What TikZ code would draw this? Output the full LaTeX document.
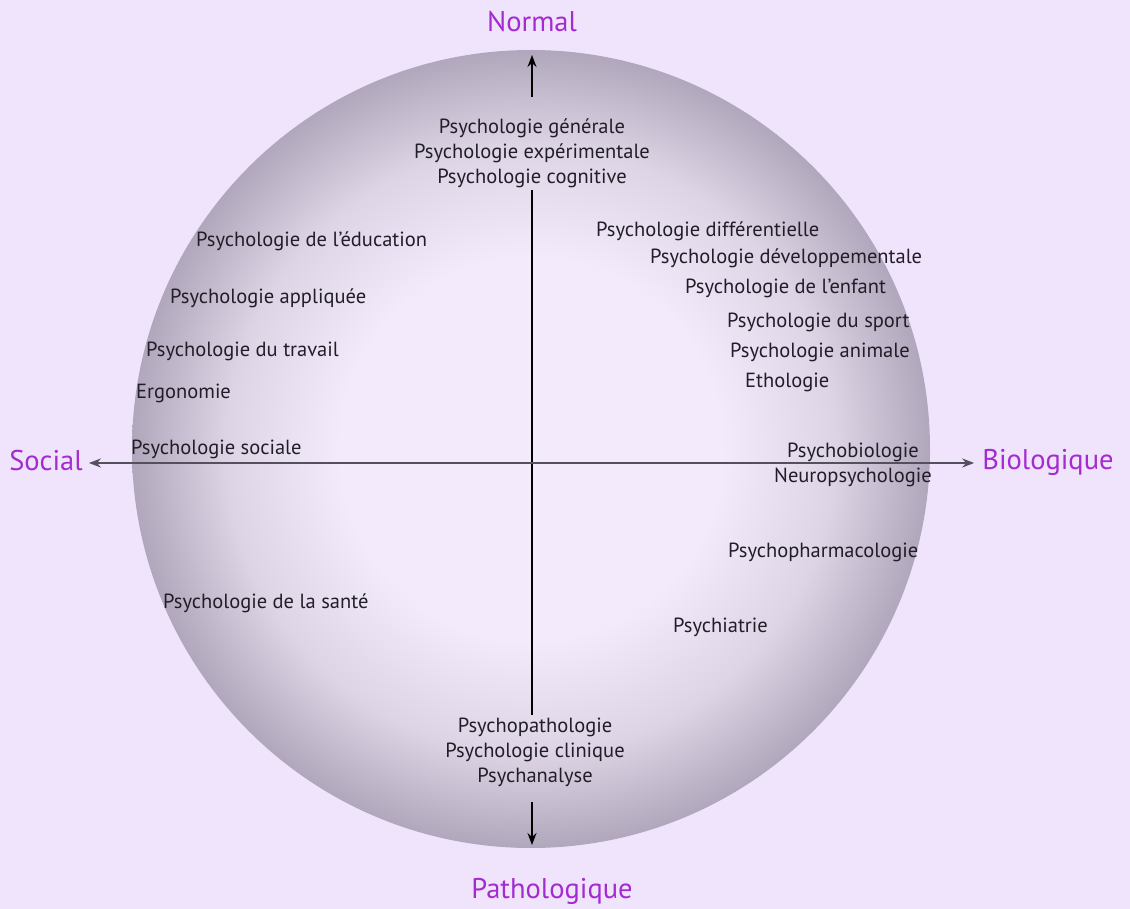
\documentclass[tikz,border=0pt]{standalone}
\usepackage{fontspec}
\setmainfont{PT Sans}
\usetikzlibrary{arrows.meta}
\definecolor{bgpurple}{HTML}{F0E4FC}
\definecolor{orbin}{HTML}{F3EBFB}
\definecolor{orbmid}{HTML}{DDD4E5}
\definecolor{orbout}{HTML}{B1A7BC}
\definecolor{inkgray}{HTML}{221E28}
\definecolor{polepurple}{HTML}{A42BD0}
\definecolor{axisgray}{HTML}{55505E}
\pgfdeclareradialshading{orb}{\pgfpoint{0bp}{0bp}}{color(0bp)=(orbin); color(12bp)=(orbin); color(19bp)=(orbmid); color(25bp)=(orbout); color(50bp)=(orbout)}

\begin{document}
\begin{tikzpicture}[
  x=1pt, y=-1pt,
  field/.style={font=\fontsize{20.5}{25}\selectfont, text=inkgray, inner sep=2pt, anchor=west},
  stack/.style={font=\fontsize{20.5}{25}\selectfont, text=inkgray, align=center, inner sep=2pt},
  pole/.style={font=\fontsize{28.5}{32}\selectfont, text=polepurple, inner sep=4pt},
  varr/.style={-{Stealth[length=12pt, width=9pt]}, line width=1.3pt, color=black},
  harr/.style={{Stealth[length=12pt, width=9pt]}-{Stealth[length=12pt, width=9pt]}, line width=2.2pt, color=axisgray, shorten <=2pt, shorten >=4pt},
]
\fill[bgpurple] (0,0) rectangle (1130,909);
\useasboundingbox (0,0) rectangle (1130,909);
\shade[shading=orb] (531,449) circle[radius=399];

% poles
\node[pole] (normal) at (532,22) {Normal};
\node[pole] (social) at (46,461) {Social};
\node[pole] (biolog) at (1048,462) {Biologique};
\node[pole] (patho) at (552,891) {Pathologique};

% axes
\coordinate (hub) at (532,463);
\coordinate (ntail) at (532,97);
\coordinate (ntip) at (532,55);
\coordinate (stail) at (532,802);
\coordinate (stip) at (532,845);
\node[stack] (normblk) at (532,153) {Psychologie générale\\Psychologie expérimentale\\Psychologie cognitive};
\node[stack] (pathblk) at (535,752) {Psychopathologie\\Psychologie clinique\\Psychanalyse};
\draw[varr] (ntail) -- (ntip);
\draw[line width=1.3pt] (normblk.south -| hub) -- (pathblk.north -| hub);
\draw[varr] (stail) -- (stip);
\draw[harr] (social.east |- hub) -- (biolog.west |- hub);

% social side
\node[field] (educ) at (194,241) {Psychologie de l'éducation};
\node[field] (appl) at (168,298) {Psychologie appliquée};
\node[field] (trav) at (144,351) {Psychologie du travail};
\node[field] (ergo) at (134,393) {Ergonomie};
\node[field] (soci) at (129,449) {Psychologie sociale};
\node[field] (sante) at (161,603) {Psychologie de la santé};

% biological side
\node[field] (diff) at (594,231) {Psychologie différentielle};
\node[field] (devel) at (648,258) {Psychologie développementale};
\node[field] (enfant) at (683,288) {Psychologie de l'enfant};
\node[field] (sport) at (725,322) {Psychologie du sport};
\node[field] (anim) at (728,352) {Psychologie animale};
\node[field] (etho) at (743,382) {Ethologie};
\node[stack] (neuro) at (853,465) {Psychobiologie\\Neuropsychologie};
\node[field] (pharma) at (726,552) {Psychopharmacologie};
\node[field] (psychia) at (671,627) {Psychiatrie};
\end{tikzpicture}
\end{document}
